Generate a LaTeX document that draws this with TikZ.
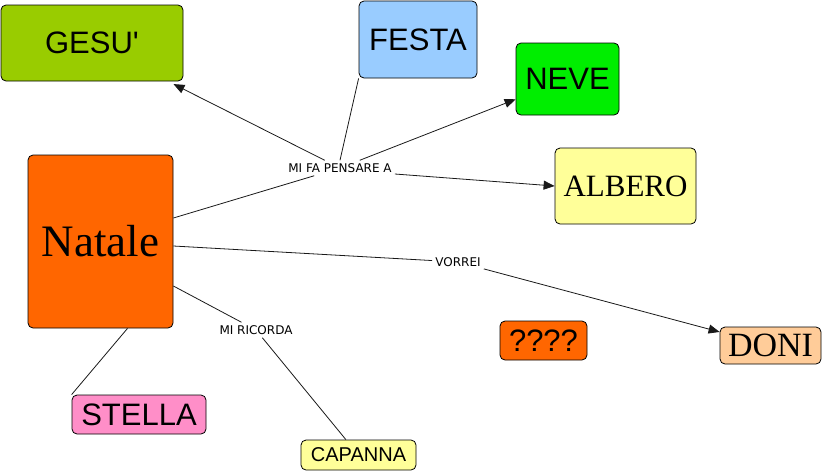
\documentclass[tikz,border=0pt]{standalone}
\usepackage{fontspec}
\setmainfont{Liberation Serif}
\setsansfont{Liberation Sans}
\newfontfamily\bigsans{Liberation Sans}[Ligatures=TeXOff]
\newfontfamily\labfont{DejaVu Sans}
\usetikzlibrary{arrows.meta}
\definecolor{cgesu}{HTML}{99CC00}
\definecolor{cfesta}{HTML}{99CCFF}
\definecolor{cneve}{HTML}{00EE00}
\definecolor{calbero}{HTML}{FFFF99}
\definecolor{cnatale}{HTML}{FF6600}
\definecolor{cstella}{HTML}{FF8EC8}
\definecolor{ccapanna}{HTML}{FFFF99}
\definecolor{cq}{HTML}{FF6600}
\definecolor{cdoni}{HTML}{FFCC99}
\begin{document}
\begin{tikzpicture}[x=1pt,y=-1pt,
  box/.style={draw=black, line width=0.8pt, rounded corners=5pt, inner sep=0pt, anchor=center},
  sansbig/.style={font=\bigsans\fontsize{31}{31}\selectfont},
  sanssmall/.style={font=\bigsans\fontsize{20}{20}\selectfont},
  serifbig/.style={font=\rmfamily\fontsize{31}{31}\selectfont},
  lab/.style={font=\labfont\fontsize{12}{12}\selectfont, inner sep=3pt},
  conn/.style={line width=0.8pt, draw=black!90},
  arr/.style={conn, -{Triangle[length=11pt,width=9pt]}}
]
\useasboundingbox (0,0) rectangle (824,474);

\node[box, fill=cgesu, sansbig, minimum width=182pt, minimum height=76pt] (gesu) at (92,43) {GESU'};
\node[box, fill=cfesta, sansbig, minimum width=118pt, minimum height=77pt] (festa) at (418,39.5) {FESTA};
\node[box, fill=cneve, sansbig, minimum width=103pt, minimum height=72pt] (neve) at (567.5,79) {NEVE};
\node[box, fill=calbero, serifbig, minimum width=141pt, minimum height=76pt] (albero) at (625.5,186) {ALBERO};
\node[box, fill=cnatale, font=\rmfamily\fontsize{45}{45}\selectfont, minimum width=145pt, minimum height=173pt] (natale) at (100.5,241.5) {Natale};
\node[box, fill=cstella, sansbig, minimum width=134pt, minimum height=39pt] (stella) at (139,414.5) {STELLA};
\node[box, fill=ccapanna, sanssmall, minimum width=115pt, minimum height=30pt] (capanna) at (358.5,455) {CAPANNA};
\node[box, fill=cq, sansbig, minimum width=87pt, minimum height=39pt] (q) at (543.5,340.5) {????};
\node[box, fill=cdoni, font=\rmfamily\fontsize{34}{34}\selectfont, minimum width=101pt, minimum height=37pt] (doni) at (770.5,345.5) {DONI};

\node[lab] (l1) at (340,168) {MI FA PENSARE A};
\node[lab] (l2) at (458,262) {VORREI};
\node[lab] (l3) at (256,330) {MI RICORDA};

\draw[conn] ([yshift=23.5pt]natale.east) -- (l1);
\draw[arr, shorten >=6pt] (l1) -- (gesu);
\draw[conn] (l1.north) -- (festa.south west);
\draw[arr] (l1) -- (neve);
\draw[arr] ([yshift=-6pt]l1.east) -- (albero.west);

\draw[conn] ([yshift=-4.5pt]natale.east) -- (l2);
\draw[arr] (l2) -- (doni);

\draw[conn] ([yshift=-44.5pt]natale.east) -- (l3);
\draw[conn] (l3) -- (capanna);

\draw[conn] ([xshift=27pt]natale.south) -- (stella.north west);
\end{tikzpicture}
\end{document}
